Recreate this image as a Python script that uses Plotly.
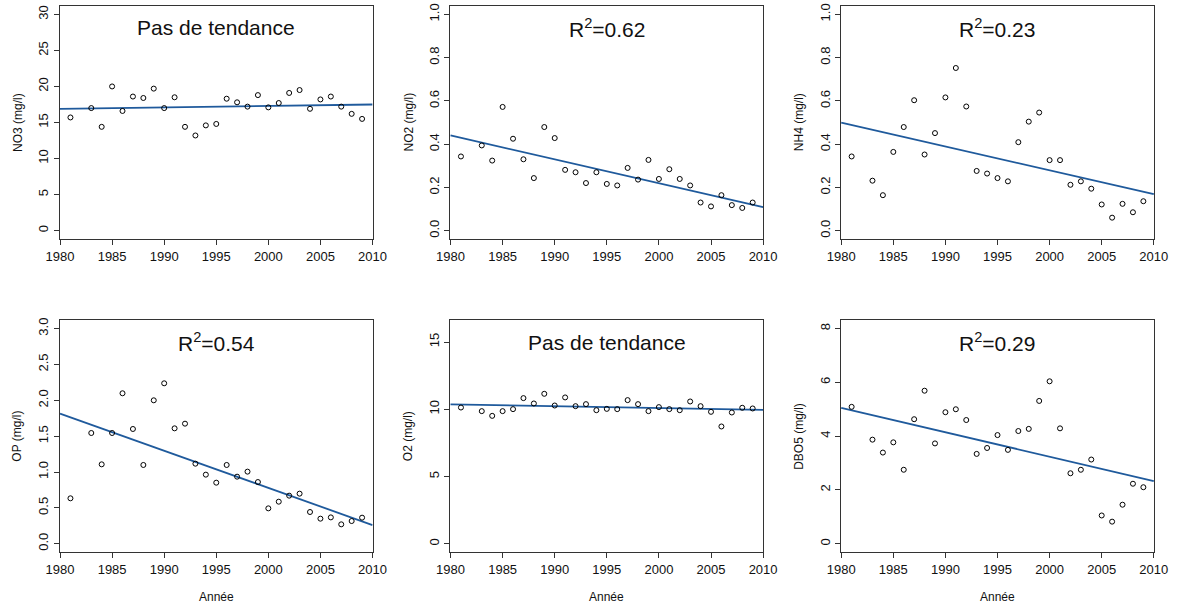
import plotly.graph_objects as go

years = [1981, 1983, 1984, 1985, 1986, 1987, 1988, 1989, 1990, 1991, 1992, 1993, 1994, 1995,
         1996, 1997, 1998, 1999, 2000, 2001, 2002, 2003, 2004, 2005, 2006, 2007, 2008, 2009]

no3 = [15.7, 17.0, 14.4, 20.0, 16.6, 18.6, 18.4, 19.7, 17.0, 18.5, 14.4, 13.2, 14.6, 14.8,
       18.3, 17.8, 17.2, 18.8, 17.1, 17.7, 19.1, 19.5, 16.9, 18.2, 18.6, 17.2, 16.2, 15.5]
no2 = [0.343, 0.394, 0.324, 0.572, 0.425, 0.330, 0.243, 0.479, 0.428, 0.281, 0.270, 0.220, 0.270, 0.216,
       0.209, 0.290, 0.236, 0.327, 0.239, 0.284, 0.239, 0.209, 0.130, 0.112, 0.164, 0.118, 0.105, 0.130]
nh4 = [0.343, 0.231, 0.164, 0.364, 0.479, 0.603, 0.352, 0.451, 0.616, 0.752, 0.574, 0.276, 0.264, 0.243,
       0.228, 0.409, 0.504, 0.546, 0.326, 0.326, 0.212, 0.228, 0.194, 0.121, 0.060, 0.124, 0.085, 0.136]
op = [0.633, 1.544, 1.107, 1.544, 2.098, 1.600, 1.098, 2.000, 2.237, 1.609, 1.674, 1.116, 0.963, 0.851,
      1.098, 0.935, 1.005, 0.860, 0.493, 0.586, 0.670, 0.698, 0.442, 0.349, 0.367, 0.270, 0.316, 0.363]
o2 = [10.13, 9.86, 9.51, 9.86, 10.01, 10.83, 10.43, 11.15, 10.28, 10.88, 10.23, 10.38, 9.93, 10.03,
      10.01, 10.68, 10.38, 9.86, 10.16, 10.01, 9.93, 10.58, 10.23, 9.81, 8.72, 9.76, 10.11, 10.06]
dbo5 = [5.09, 3.87, 3.39, 3.77, 2.75, 4.63, 5.69, 3.73, 4.89, 5.00, 4.60, 3.34, 3.56, 4.04,
        3.49, 4.19, 4.27, 5.31, 6.04, 4.29, 2.62, 2.75, 3.13, 1.05, 0.82, 1.45, 2.23, 2.10]

series = [no3, no2, nh4, op, o2, dbo5]
ylabels = ["NO3 (mg/l)", "NO2 (mg/l)", "NH4 (mg/l)", "OP (mg/l)", "O2 (mg/l)", "DBO5 (mg/l)"]
titles = ["Pas de tendance", "R<sup>2</sup>=0.62", "R<sup>2</sup>=0.23",
          "R<sup>2</sup>=0.54", "Pas de tendance", "R<sup>2</sup>=0.29"]
trend_years = [1980, 2010]
trend_start = [16.9, 0.440, 0.499, 1.814, 10.36, 5.05]
trend_end = [17.5, 0.109, 0.169, 0.260, 9.96, 2.33]
ylims = [(0, 30), (0, 1), (0, 1), (0, 3), (0, 16), (0, 8)]
yticks = [[0, 5, 10, 15, 20, 25, 30], [0, 0.2, 0.4, 0.6, 0.8, 1.0], [0, 0.2, 0.4, 0.6, 0.8, 1.0],
          [0, 0.5, 1.0, 1.5, 2.0, 2.5, 3.0], [0, 5, 10, 15], [0, 2, 4, 6, 8]]
yfmt = ["d", ".1f", ".1f", ".1f", "d", "d"]
xticks = [1980, 1985, 1990, 1995, 2000, 2005, 2010]
xlabel = "Année"

W, H = 1177, 611
col_px = [(59.5, 372.7), (450.0, 763.3), (840.7, 1154.0)]
row_px = [(5.7, 239.3), (320.0, 552.3)]

FONT = "Liberation Sans, Arial, sans-serif"
TXT = "#111111"
BOX = "#333333"
LINE = "#1f5a9c"

fig = go.Figure()
layout = dict(width=W, height=H, margin=dict(l=0, r=0, t=0, b=0),
              paper_bgcolor="white", plot_bgcolor="white", showlegend=False,
              font=dict(family=FONT, color=TXT))
annotations = []

for i in range(6):
    r, c = divmod(i, 3)
    n = i + 1
    xa = "xaxis" if n == 1 else f"xaxis{n}"
    ya = "yaxis" if n == 1 else f"yaxis{n}"
    xr = "x" if n == 1 else f"x{n}"
    yr = "y" if n == 1 else f"y{n}"
    x0, x1 = col_px[c]
    y0, y1 = row_px[r]
    lo, hi = ylims[i]
    ext = 0.04 * (hi - lo)
    layout[xa] = dict(domain=[x0 / W, x1 / W], anchor=yr, range=[1979.95, 2010.02],
                      tickvals=xticks, ticks="outside", ticklen=5, tickwidth=1, tickcolor=BOX,
                      showline=True, mirror=True, linecolor=BOX, linewidth=1,
                      showgrid=False, zeroline=False, automargin=False,
                      tickfont=dict(size=13, family=FONT, color=TXT))
    layout[ya] = dict(domain=[1 - y1 / H, 1 - y0 / H], anchor=xr, range=[lo - ext, hi + ext],
                      tickvals=yticks[i], tickformat=yfmt[i], ticks="outside", ticklen=5,
                      tickwidth=1, tickcolor=BOX, tickangle=-90,
                      showline=True, mirror=True, linecolor=BOX, linewidth=1,
                      showgrid=False, zeroline=False, automargin=False,
                      tickfont=dict(size=13, family=FONT, color=TXT))
    fig.add_trace(go.Scatter(x=trend_years, y=[trend_start[i], trend_end[i]], mode="lines",
                             line=dict(color=LINE, width=1.8), xaxis=xr, yaxis=yr,
                             cliponaxis=True, hoverinfo="skip"))
    fig.add_trace(go.Scatter(x=years, y=series[i], mode="markers",
                             marker=dict(symbol="circle-open", size=5, color="black",
                                         line=dict(width=1, color="black")),
                             xaxis=xr, yaxis=yr))
    annotations.append(dict(text=titles[i], xref=f"{xr} domain", yref=f"{yr} domain",
                            x=0.5, y=1, yshift=-22, xanchor="center", yanchor="middle",
                            showarrow=False, font=dict(size=21, family=FONT, color=TXT)))
    annotations.append(dict(text=ylabels[i], xref="paper", yref=f"{yr} domain",
                            x=(x0 - 42) / W, y=0.5, xanchor="center", yanchor="middle",
                            textangle=-90, showarrow=False,
                            font=dict(size=12, family=FONT, color=TXT)))
    if r == 1:
        annotations.append(dict(text=xlabel, xref=f"{xr} domain", yref="paper",
                                x=0.5, y=1 - 597 / H, xanchor="center", yanchor="middle",
                                showarrow=False, font=dict(size=12, family=FONT, color=TXT)))

layout["annotations"] = annotations
fig.update_layout(**layout)
fig.write_html("out.html")
